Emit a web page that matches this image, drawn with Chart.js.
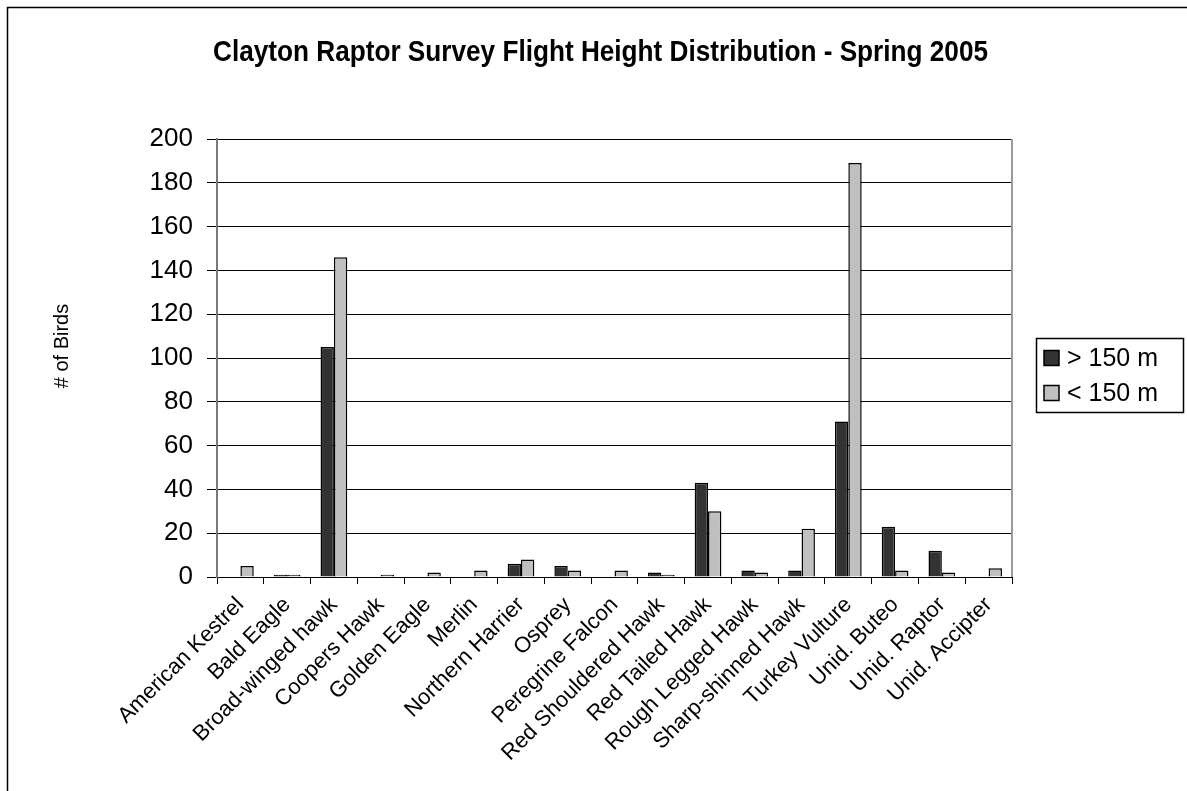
<!DOCTYPE html>
<html>
<head>
<meta charset="utf-8">
<script src="https://cdn.jsdelivr.net/npm/chart.js@4/dist/chart.umd.min.js"></script>
<style>
  html, body { margin: 0; padding: 0; background: #ffffff; }
  #wrap { position: relative; width: 1187px; height: 791px; }
</style>
</head>
<body>
<div id="wrap"><canvas id="c" width="1187" height="791"></canvas></div>
<script>
// Raptor counts per species, split by flight height
const categories = [
  'American Kestrel', 'Bald Eagle', 'Broad-winged hawk', 'Coopers Hawk', 'Golden Eagle',
  'Merlin', 'Northern Harrier', 'Osprey', 'Peregrine Falcon', 'Red Shouldered Hawk',
  'Red Tailed Hawk', 'Rough Legged Hawk', 'Sharp-shinned Hawk', 'Turkey Vulture',
  'Unid. Buteo', 'Unid. Raptor', 'Unid. Accipter'
];
const above150 = [0, 1, 105, 0, 0, 0, 6, 5, 0, 2, 43, 3, 3, 71, 23, 12, 0];
const below150 = [5, 1, 146, 1, 2, 3, 8, 3, 3, 1, 30, 2, 22, 189, 3, 2, 4];
const seriesNames = ['> 150 m', '< 150 m'];
const yTicks = [0, 20, 40, 60, 80, 100, 120, 140, 160, 180, 200];

const FONT = '"Liberation Sans", Arial, sans-serif';

// Frame, title, axis title, plot border and legend
const decorations = {
  id: 'decorations',
  afterDraw(chart) {
    const ctx = chart.ctx;
    const a = chart.chartArea;
    ctx.save();

    // outer frame (top and left edges)
    ctx.strokeStyle = '#000';
    ctx.lineWidth = 1.5;
    ctx.beginPath();
    ctx.moveTo(7.5, 791);
    ctx.lineTo(7.5, 7.5);
    ctx.lineTo(1187, 7.5);
    ctx.stroke();

    // plot area border on the right
    ctx.strokeStyle = '#9a9a9a';
    ctx.lineWidth = 2;
    ctx.beginPath();
    ctx.moveTo(a.right, a.top);
    ctx.lineTo(a.right, a.bottom);
    ctx.stroke();

    // title, slightly condensed
    const title = 'Clayton Raptor Survey Flight Height Distribution - Spring 2005';
    ctx.fillStyle = '#000';
    ctx.font = 'bold 30px ' + FONT;
    ctx.textBaseline = 'alphabetic';
    ctx.textAlign = 'left';
    const tw = ctx.measureText(title).width;
    const targetW = 775;
    ctx.save();
    ctx.translate(213, 61);
    ctx.scale(targetW / tw, 1);
    ctx.fillText(title, 0, 0);
    ctx.restore();

    // y axis title
    ctx.save();
    ctx.font = '20px ' + FONT;
    ctx.textAlign = 'center';
    ctx.textBaseline = 'middle';
    ctx.translate(62, 346);
    ctx.rotate(-Math.PI / 2);
    ctx.fillText('# of Birds', 0, 0);
    ctx.restore();

    // legend
    const bx = 1036, bw = 147, bh = 74, by = 338;
    ctx.strokeStyle = '#000';
    ctx.lineWidth = 1.5;
    ctx.strokeRect(bx + 0.5, by + 0.5, bw, bh);
    ctx.font = '25px ' + FONT;
    ctx.textAlign = 'left';
    ctx.textBaseline = 'middle';
    chart.data.datasets.forEach((ds, i) => {
      const cy = by + 20 + i * 35;
      ctx.fillStyle = ds.backgroundColor;
      ctx.fillRect(bx + 8, cy - 7.5, 15, 15);
      ctx.strokeStyle = '#000';
      ctx.lineWidth = 1.5;
      ctx.strokeRect(bx + 8, cy - 7.5, 15, 15);
      ctx.fillStyle = '#000';
      ctx.fillText(ds.label, bx + 31, cy + 1);
    });

    ctx.restore();
  }
};

new Chart(document.getElementById('c'), {
  type: 'bar',
  data: {
    labels: categories,
    datasets: [
      { label: seriesNames[0], data: above150, backgroundColor: '#333333', borderColor: '#000', borderWidth: 1.5 },
      { label: seriesNames[1], data: below150, backgroundColor: '#c0c0c0', borderColor: '#000', borderWidth: 1.5 }
    ]
  },
  options: {
    responsive: false,
    animation: false,
    devicePixelRatio: 1,
    layout: { padding: { left: 8, top: 139, right: 175, bottom: 0 } },
    datasets: { bar: { categoryPercentage: 2 / 3.5, barPercentage: 1.0 } },
    plugins: { legend: { display: false }, title: { display: false }, tooltip: { enabled: false } },
    scales: {
      x: {
        offset: true,
        grid: { display: true, offset: true, drawOnChartArea: false, drawTicks: true, tickLength: 7, color: '#000', lineWidth: 1 },
        border: { display: true, color: '#000', width: 1 },
        ticks: {
          autoSkip: false, maxRotation: 45, minRotation: 45, padding: 8,
          color: '#000', font: { family: FONT, size: 22 }
        },
        afterFit(s) { s.height = 214; }
      },
      y: {
        min: 0, max: 200,
        afterBuildTicks(s) { s.ticks = yTicks.map(v => ({ value: v })); },
        grid: { color: '#000', lineWidth: 1, drawTicks: true, tickLength: 10 },
        border: { display: true, color: '#7a7a7a', width: 2 },
        ticks: { padding: 14, color: '#000', font: { family: FONT, size: 26 } },
        afterFit(s) { s.width = 209; }
      }
    }
  },
  plugins: [decorations]
});
</script>
</body>
</html>
